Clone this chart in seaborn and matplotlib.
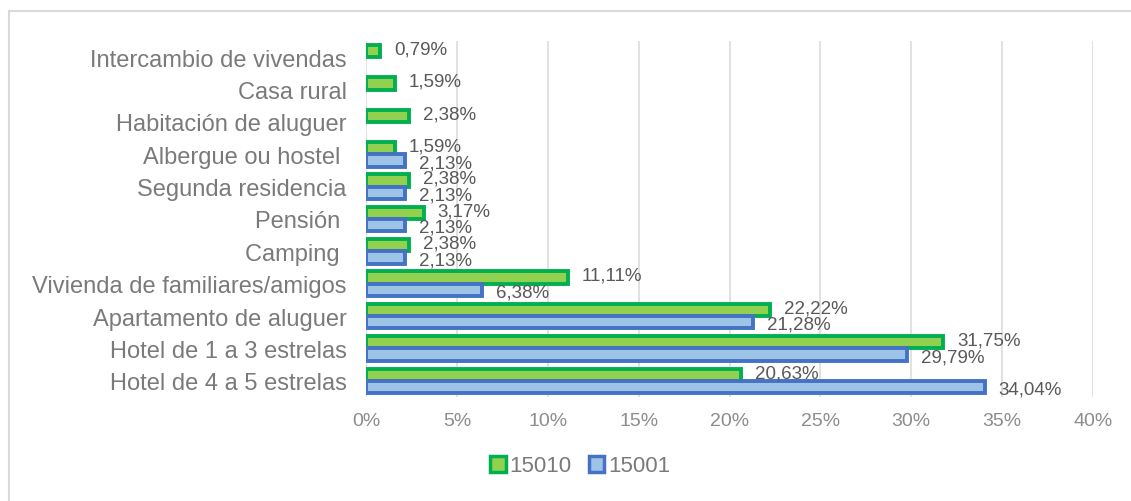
import pandas as pd
import numpy as np
import matplotlib
matplotlib.use("Agg")
import matplotlib.pyplot as plt
from matplotlib.patches import Patch, Rectangle
import seaborn as sns

# DATA
categories = [
    "Intercambio de vivendas",
    "Casa rural",
    "Habitación de aluguer",
    "Albergue ou hostel ",
    "Segunda residencia",
    "Pensión ",
    "Camping ",
    "Vivienda de familiares/amigos",
    "Apartamento de aluguer",
    "Hotel de 1 a 3 estrelas",
    "Hotel de 4 a 5 estrelas",
]
series_names = ["15010", "15001"]
values_15010 = [0.79, 1.59, 2.38, 1.59, 2.38, 3.17, 2.38, 11.11, 22.22, 31.75, 20.63]
values_15001 = [np.nan, np.nan, np.nan, 2.13, 2.13, 2.13, 2.13, 6.38, 21.28, 29.79, 34.04]
x_ticks = [0, 5, 10, 15, 20, 25, 30, 35, 40]

# STYLE
sns.set_style("white")
plt.rcParams['font.family'] = ['Liberation Sans', 'DejaVu Sans']
FILL = {'15010': '#92D050', '15001': '#9DC3E6'}
EDGE = {'15010': '#00B050', '15001': '#4472C4'}

df = pd.DataFrame({
    'categoria': categories * 2,
    'serie': [series_names[0]] * len(categories) + [series_names[1]] * len(categories),
    'valor': values_15010 + values_15001,
})

fig = plt.figure(figsize=(11.31, 5.02), dpi=100)
ax = fig.add_axes([366 / 1131, 1 - 398 / 502, (1093 - 366) / 1131, 356 / 502])

sns.barplot(data=df, y='categoria', x='valor', hue='serie', order=categories,
            hue_order=series_names, palette=FILL, saturation=1, width=0.76, orient='h',
            linewidth=2.8, legend=False, ax=ax, err_kws={'linewidth': 0})

# edge colours per series + data labels
for container, name in zip(ax.containers, series_names):
    dy = 1.5 if name == '15010' else -1.5
    for bar in container:
        bar.set_edgecolor(EDGE[name])
        w = bar.get_width()
        if np.isnan(w):
            continue
        y = bar.get_y() + bar.get_height() / 2
        ax.annotate(f"{w:.2f}".replace('.', ',') + '%', (w, y),
                    xytext=(10, dy), textcoords='offset points',
                    ha='left', va='center', fontsize=13.5, color='#595959')

ax.set_xlim(0, 40)
ax.set_xticks(x_ticks)
ax.set_xticklabels([f"{t}%" for t in x_ticks])
ax.set_xlabel('')
ax.set_ylabel('')
ax.grid(axis='x', color='#D9D9D9', linewidth=1.1)
ax.set_axisbelow(True)
for s in ax.spines.values():
    s.set_visible(False)
ax.tick_params(axis='x', length=0, pad=11, labelsize=14, labelcolor='#8C8C8C')
ax.tick_params(axis='y', length=0, pad=14, labelsize=17, labelcolor='#7A7A7A')

handles = [Patch(facecolor=FILL[n], edgecolor=EDGE[n], linewidth=2.5, label=n) for n in series_names]
fig.legend(handles=handles, loc='center', bbox_to_anchor=(580 / 1131, 1 - 467 / 502),
           ncol=2, frameon=False, fontsize=16, handlelength=0.7, handleheight=0.7,
           handletextpad=0.15, columnspacing=0.8, labelcolor='#7A7A7A')

# outer chart frame
fig.patches.append(Rectangle((9 / 1131, -0.1), 1.2, 1 - 12 / 502 + 0.1,
                             transform=fig.transFigure, fill=False,
                             edgecolor='#D9D9D9', linewidth=1.5))

fig.savefig('out.png', dpi=100)
